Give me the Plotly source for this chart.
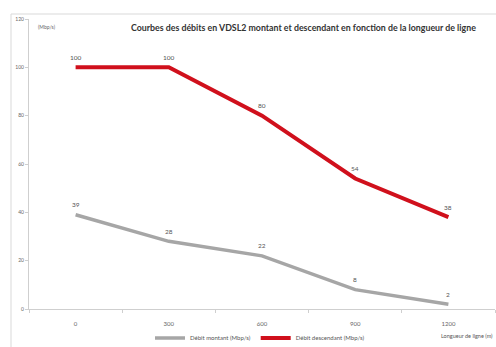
import plotly.graph_objects as go

categories = ["0", "300", "600", "900", "1200"]
montant = [39, 28, 22, 8, 2]
descendant = [100, 100, 80, 54, 38]
y_ticks = [0, 20, 40, 60, 80, 100, 120]

FONT = "Lato, 'Open Sans', sans-serif"

fig = go.Figure()
fig.add_trace(go.Scatter(
    x=categories, y=montant, mode="lines", name="Débit montant (Mbp/s)",
    line=dict(color="#a6a6a6", width=3.5),
))
fig.add_trace(go.Scatter(
    x=categories, y=descendant, mode="lines", name="Débit descendant (Mbp/s)",
    line=dict(color="#d0101c", width=4),
))

annotations = []
for series in (montant, descendant):
    for i, v in enumerate(series):
        annotations.append(dict(x=i, y=v, text=str(v), showarrow=False, yshift=10,
                                xanchor="center", yanchor="middle",
                                font=dict(size=6.5, color="#555", family=FONT)))

annotations += [
    dict(text="<b>Courbes des débits en VDSL2 montant et descendant en fonction de la longueur de ligne</b>",
         xref="paper", yref="paper", x=(303 - 29) / 466, y=(309 - 28) / 290,
         xanchor="center", yanchor="middle", showarrow=False,
         font=dict(size=8.8, color="#333", family=FONT)),
    dict(text="(Mbp/s)", xref="paper", yref="paper", x=(36 - 29) / 466, y=(309 - 27) / 290,
         xanchor="left", yanchor="middle", showarrow=False,
         font=dict(size=5, color="#666", family=FONT)),
    dict(text="Longueur de ligne (m)", xref="paper", yref="paper", x=(439 - 29) / 466,
         y=(309 - 336) / 290, xanchor="left", yanchor="middle", showarrow=False,
         font=dict(size=5.5, color="#555", family=FONT)),
]

fig.update_layout(
    width=496, height=347,
    margin=dict(l=29, r=1, t=19, b=38),
    paper_bgcolor="white", plot_bgcolor="white",
    font=dict(family=FONT, size=5, color="#666"),
    showlegend=True,
    legend=dict(orientation="h", xref="container", yref="container",
                x=260 / 496, xanchor="center", y=(347 - 338) / 347, yanchor="middle",
                font=dict(size=6, color="#555"), itemwidth=30, bgcolor="rgba(0,0,0,0)"),
    xaxis=dict(type="category", range=[-0.5, 4.5], showgrid=False, automargin=False,
               showline=True, linecolor="#cfcfcf", linewidth=1,
               ticks="outside", ticklen=3, tickcolor="#cfcfcf", tickson="boundaries",
               ticklabelstandoff=9,
               tickfont=dict(size=6, color="#666"), zeroline=False),
    yaxis=dict(range=[0, 120], tickvals=y_ticks, showgrid=False, automargin=False,
               showline=True, linecolor="#cfcfcf", linewidth=1,
               ticks="outside", ticklen=3, tickcolor="#cfcfcf",
               tickfont=dict(size=5, color="#666"), zeroline=False),
    annotations=annotations,
    shapes=[
        dict(type="rect", xref="paper", yref="paper",
             x0=(11 - 29) / 466, x1=(520 - 29) / 466, y0=(309 - 360) / 290, y1=(309 - 14) / 290,
             line=dict(color="#d9d9d9", width=1), fillcolor="rgba(0,0,0,0)", layer="below"),
    ],
)

fig.write_html("out.html")
